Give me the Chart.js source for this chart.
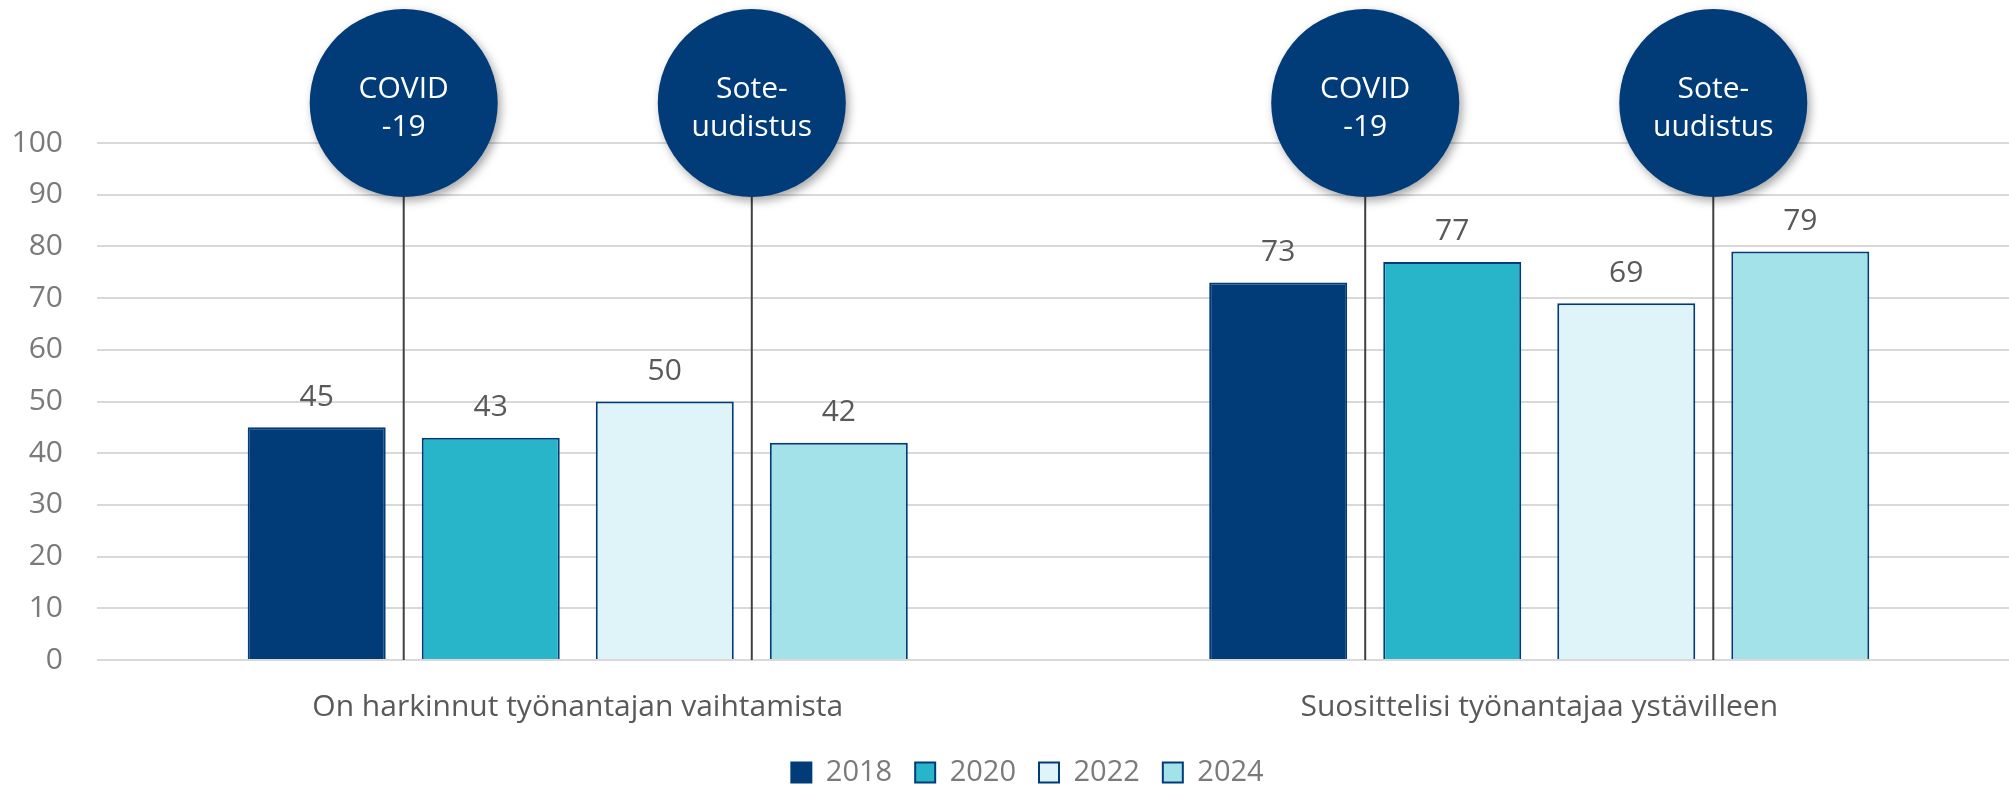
<!DOCTYPE html>
<html>
<head>
<meta charset="utf-8">
<script src="https://cdn.jsdelivr.net/npm/chart.js@4"></script>
<style>
  html, body { margin: 0; padding: 0; background: #fff; overflow: hidden; }
</style>
</head>
<body>
<canvas id="myChart" width="2020" height="787"></canvas>
<script>
// Data
const categories = ['On harkinnut työnantajan vaihtamista', 'Suosittelisi työnantajaa ystävilleen'];
const years = ['2018', '2020', '2022', '2024'];
const values2018 = [45, 73];
const values2020 = [43, 77];
const values2022 = [50, 69];
const values2024 = [42, 79];
const yMin = 0;
const yMax = 100;
const yStep = 10;

// Events, marked between two consecutive survey years
const eventLabels = [['COVID', '-19'], ['Sote-', 'uudistus']];
const eventAfterYear = [0, 2];

const navy = '#013C79';
const barColors = [navy, '#29B5C9', '#DFF4F8', '#A4E2EA'];
const seriesValues = [values2018, values2020, values2022, values2024];

Chart.defaults.font.family = "'Open Sans', sans-serif";

// Value labels above bars + event bubbles with their lines
const overlayPlugin = {
  id: 'overlay',
  afterDatasetsDraw(chart) {
    const ctx = chart.ctx;
    const yScale = chart.scales.y;

    // value labels
    ctx.save();
    ctx.font = "30px 'Open Sans', sans-serif";
    ctx.fillStyle = '#595959';
    ctx.textAlign = 'center';
    ctx.textBaseline = 'middle';
    chart.data.datasets.forEach((ds, i) => {
      chart.getDatasetMeta(i).data.forEach((bar, j) => {
        ctx.fillText(String(ds.data[j]), bar.x, bar.y - 30);
      });
    });
    ctx.restore();

    // event lines and bubbles
    const radius = 94;
    const cy = chart.chartArea.top - 40;
    const baseY = yScale.getPixelForValue(0);
    eventAfterYear.forEach((k, e) => {
      const metaA = chart.getDatasetMeta(k);
      const metaB = chart.getDatasetMeta(k + 1);
      metaA.data.forEach((barA, j) => {
        const x = (barA.x + metaB.data[j].x) / 2;

        ctx.save();
        ctx.strokeStyle = '#404040';
        ctx.lineWidth = 2;
        ctx.beginPath();
        ctx.moveTo(x, cy + radius);
        ctx.lineTo(x, baseY);
        ctx.stroke();
        ctx.restore();

        ctx.save();
        ctx.shadowColor = 'rgba(0, 0, 0, 0.35)';
        ctx.shadowBlur = 10;
        ctx.shadowOffsetX = 3;
        ctx.shadowOffsetY = 4;
        ctx.fillStyle = navy;
        ctx.beginPath();
        ctx.arc(x, cy, radius, 0, Math.PI * 2);
        ctx.fill();
        ctx.restore();

        ctx.save();
        ctx.fillStyle = '#ffffff';
        ctx.font = "30px 'Open Sans', sans-serif";
        ctx.textAlign = 'center';
        ctx.textBaseline = 'middle';
        ctx.fillText(eventLabels[e][0], x, cy - 14);
        ctx.fillText(eventLabels[e][1], x, cy + 24);
        ctx.restore();
      });
    });
  }
};

// Nudge the legend a bit right and down
const legendNudge = {
  id: 'legendNudge',
  afterUpdate(chart) {
    const lg = chart.legend;
    if (!lg) return;
    lg.left += 11;
    lg.right += 11;
    lg.top += 10;
    lg.bottom += 10;
  }
};

const ctx = document.getElementById('myChart').getContext('2d');

const chart = new Chart(ctx, {
  type: 'bar',
  data: {
    labels: categories,
    datasets: years.map((year, i) => ({
      label: year,
      data: seriesValues[i],
      backgroundColor: barColors[i],
      borderColor: navy,
      borderWidth: 2,
      categoryPercentage: 0.724,
      barPercentage: 0.793
    }))
  },
  options: {
    responsive: false,
    animation: false,
    layout: {
      padding: { top: 143, left: 13, right: 0, bottom: 0 }
    },
    scales: {
      x: {
        grid: { display: false, drawTicks: false },
        border: { display: false },
        ticks: {
          color: '#595959',
          font: { size: 30 },
          padding: 29,
          maxRotation: 0
        },
        afterFit(scale) { scale.height = 65; }
      },
      y: {
        min: yMin,
        max: yMax,
        grid: { color: '#d9d9d9', lineWidth: 2, drawTicks: false },
        border: { display: false },
        ticks: {
          stepSize: yStep,
          color: '#7a7a7a',
          font: { size: 30 },
          padding: 34
        },
        afterFit(scale) { scale.width = 84; }
      }
    },
    plugins: {
      legend: {
        position: 'bottom',
        labels: {
          color: '#7a7a7a',
          font: { size: 29 },
          boxWidth: 20,
          boxHeight: 20,
          padding: 23
        }
      },
      tooltip: { enabled: false }
    }
  },
  plugins: [overlayPlugin, legendNudge]
});
</script>
</body>
</html>
